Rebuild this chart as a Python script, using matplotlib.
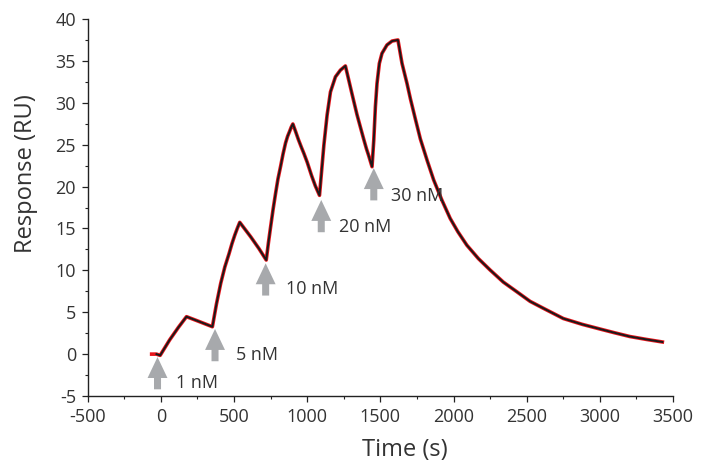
import matplotlib
matplotlib.use("Agg")
import matplotlib.pyplot as plt
from matplotlib.ticker import MultipleLocator

plt.rcParams['font.family'] = ['Open Sans', 'DejaVu Sans']
plt.rcParams['axes.unicode_minus'] = False

# Sensorgram (time in s, response in RU)
time_s = [-63, -30, -5, 60, 120, 175, 260, 352, 380, 409, 437, 466, 486, 505, 522, 539,
          614, 670, 720, 735, 750, 767, 784, 800, 818, 835, 852, 866, 880, 891, 902,
          920, 940, 960, 977, 1000, 1030, 1055,
          1084, 1098, 1114, 1136, 1159, 1193, 1227, 1261, 1280, 1307, 1340,
          1365, 1387, 1405, 1420, 1443, 1455, 1466, 1477, 1493, 1511, 1545, 1580,
          1620, 1648, 1682, 1705, 1740, 1773, 1820, 1864, 1920, 1977, 2030, 2091,
          2170, 2250, 2340, 2432, 2523, 2614, 2750, 2880, 3000, 3100, 3205, 3320, 3427]
response = [0.0, 0.0, -0.15, 1.7, 3.2, 4.47, 3.9, 3.27, 6.0, 8.45, 10.4, 12.0, 13.2, 14.2, 15.0, 15.73,
            14.0, 12.6, 11.23, 13.3, 15.2, 17.3, 19.2, 20.9, 22.4, 23.9, 25.2, 26.0, 26.6, 27.1, 27.47,
            26.6, 25.6, 24.7, 23.97, 22.9, 21.3, 20.1,
            18.95, 21.77, 24.96, 28.54, 31.3, 33.1, 33.9, 34.4, 33.0, 31.0, 28.6,
            27.0, 25.6, 24.5, 23.7, 22.37, 25.56, 29.53, 32.3, 34.7, 35.9, 36.9, 37.37,
            37.5, 34.7, 32.3, 30.5, 28.0, 25.7, 23.1, 20.8, 18.4, 16.2, 14.6, 13.0,
            11.4, 10.04, 8.6, 7.45, 6.3, 5.47, 4.25, 3.55, 3.0, 2.55, 2.1, 1.75, 1.45]

# Injection markers
conc_labels = ['1 nM', '5 nM', '10 nM', '20 nM', '30 nM']
arrow_t = [-23, 370, 716, 1096, 1455]
arrow_tip = [-0.35, 3.0, 10.84, 18.4, 22.2]
label_t = [102, 511, 857, 1216, 1573]
label_y = [-3.45, -0.11, 7.77, 15.2, 18.84]

fig = plt.figure(figsize=(7.04, 4.66), dpi=100)
ax = fig.add_axes([0.1246, 0.1502, 0.8314, 0.8090])

ax.plot(time_s, response, color='#e8141b', lw=2.6, solid_joinstyle='round', zorder=2)
ax.plot(time_s[1:], response[1:], color='#1a1a1a', lw=1.4, solid_joinstyle='round', zorder=3)

arrow_color = '#a7a9ac'
arrow_len = 3.85
for t, tip, lab, lt, ly in zip(arrow_t, arrow_tip, conc_labels, label_t, label_y):
    ax.arrow(t, tip - arrow_len, 0, arrow_len, width=48, head_width=136,
             head_length=2.5, length_includes_head=True, color=arrow_color,
             lw=0, zorder=4)
    ax.text(lt, ly, lab, fontsize=13, color='#333333', ha='left', va='center', zorder=5)

ax.set_xlim(-500, 3500)
ax.set_ylim(-5, 40)
ax.xaxis.set_major_locator(MultipleLocator(500))
ax.xaxis.set_minor_locator(MultipleLocator(250))
ax.yaxis.set_major_locator(MultipleLocator(5))
ax.yaxis.set_minor_locator(MultipleLocator(2.5))

for side in ['top', 'right']:
    ax.spines[side].set_visible(False)
for side in ['left', 'bottom']:
    ax.spines[side].set_color('#222222')
    ax.spines[side].set_linewidth(1.0)

ax.tick_params(which='major', direction='out', length=4.5, width=0.9,
               color='#222222', labelsize=13, labelcolor='#333333', pad=4)
ax.tick_params(which='minor', direction='out', length=2.2, width=0.8, color='#222222')

ax.set_xlabel('Time (s)', fontsize=17, color='#333333')
ax.set_ylabel('Response (RU)', fontsize=17, color='#333333')
ax.xaxis.set_label_coords(0.542, -0.112)
ax.yaxis.set_label_coords(-0.085, 0.59)

fig.savefig('out.png', dpi=100)
